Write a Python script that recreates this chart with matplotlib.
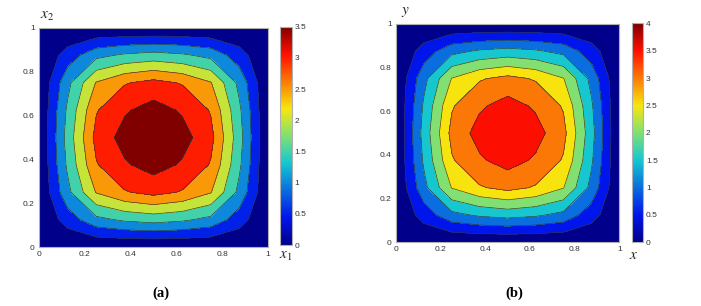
"""Two filled-contour panels, (a) and (b), on a coarse 9x9 nodal grid with jet-like colours."""

import matplotlib

matplotlib.use("Agg")
import matplotlib.pyplot as plt
import numpy as np
from matplotlib.cm import ScalarMappable
from matplotlib.colors import LinearSegmentedColormap, Normalize

# nodal coordinates (h = 1/8)
NODES = [0.0, 0.125, 0.25, 0.375, 0.5, 0.625, 0.75, 0.875, 1.0]

# panel (a): nodal values, rows = x2, columns = x1
U_A = [
    [0.00, 0.00, 0.00, 0.00, 0.00, 0.00, 0.00, 0.00, 0.00],
    [0.00, 0.73, 1.36, 1.59, 1.70, 1.59, 1.36, 0.73, 0.00],
    [0.00, 1.36, 2.53, 2.96, 3.16, 2.96, 2.53, 1.36, 0.00],
    [0.00, 1.59, 2.96, 3.44, 3.70, 3.44, 2.96, 1.59, 0.00],
    [0.00, 1.70, 3.16, 3.70, 3.95, 3.70, 3.16, 1.70, 0.00],
    [0.00, 1.59, 2.96, 3.44, 3.70, 3.44, 2.96, 1.59, 0.00],
    [0.00, 1.36, 2.53, 2.96, 3.16, 2.96, 2.53, 1.36, 0.00],
    [0.00, 0.73, 1.36, 1.59, 1.70, 1.59, 1.36, 0.73, 0.00],
    [0.00, 0.00, 0.00, 0.00, 0.00, 0.00, 0.00, 0.00, 0.00],
]

# panel (b): nodal values, rows = y, columns = x
U_B = [
    [0.00, 0.00, 0.00, 0.00, 0.00, 0.00, 0.00, 0.00, 0.00],
    [0.00, 0.72, 1.35, 1.58, 1.69, 1.58, 1.35, 0.72, 0.00],
    [0.00, 1.35, 2.52, 2.95, 3.15, 2.95, 2.52, 1.35, 0.00],
    [0.00, 1.58, 2.95, 3.43, 3.69, 3.43, 2.95, 1.58, 0.00],
    [0.00, 1.69, 3.15, 3.69, 3.92, 3.69, 3.15, 1.69, 0.00],
    [0.00, 1.58, 2.95, 3.43, 3.69, 3.43, 2.95, 1.58, 0.00],
    [0.00, 1.35, 2.52, 2.95, 3.15, 2.95, 2.52, 1.35, 0.00],
    [0.00, 0.72, 1.35, 1.58, 1.69, 1.58, 1.35, 0.72, 0.00],
    [0.00, 0.00, 0.00, 0.00, 0.00, 0.00, 0.00, 0.00, 0.00],
]

LEVELS = [0.0, 0.5, 1.0, 1.5, 2.0, 2.5, 3.0, 3.5, 4.0]
AXIS_TICKS = [0, 0.2, 0.4, 0.6, 0.8, 1]
AXIS_TICKLABELS = ["0", "0.2", "0.4", "0.6", "0.8", "1"]
CB_MAX_A = 3.5
CB_MAX_B = 4.0

plt.rcParams.update(
    {
        "font.family": "Liberation Sans",
        "mathtext.fontset": "stix",
        "font.size": 6,
    }
)

# MATLAB-style jet, a little muted in the greens as in the printed figure
CMAP = LinearSegmentedColormap.from_list(
    "jet_print",
    [
        (0.0, (0.00, 0.00, 0.54)),
        (0.125, (0.00, 0.08, 0.92)),
        (0.375, (0.08, 0.78, 0.82)),
        (0.5, (0.50, 0.88, 0.45)),
        (0.625, (0.97, 0.90, 0.05)),
        (0.875, (1.00, 0.06, 0.00)),
        (1.0, (0.50, 0.00, 0.00)),
    ],
)
FRAME = "#b0b0b0"
TICK_TXT = "#333333"


def panel(fig, ax_rect, cb_rect, values, cb_max, xlab, xlab_pos, ylab, ylab_pos, tag, tag_x):
    ax = fig.add_axes(ax_rect)
    x = np.array(NODES)
    z = np.array(values)
    # each band takes the colour of its lower level on a 0..cb_max scale (MATLAB style)
    colors = [CMAP(min(lv / cb_max, 1.0)) for lv in LEVELS[:-1]]
    ax.contourf(x, x, z, levels=LEVELS, colors=colors)
    ax.contour(x, x, z, levels=LEVELS[1:-1], colors="#333333", linewidths=0.45)
    ax.set_xlim(0, 1)
    ax.set_ylim(0, 1)
    ax.set_xticks(AXIS_TICKS, AXIS_TICKLABELS)
    ax.set_yticks(AXIS_TICKS, AXIS_TICKLABELS)
    ax.tick_params(length=0, pad=3, labelcolor=TICK_TXT)
    for s in ax.spines.values():
        s.set_color(FRAME)
        s.set_linewidth(0.8)

    cax = fig.add_axes(cb_rect)
    sm = ScalarMappable(norm=Normalize(0, cb_max), cmap=CMAP)
    cb = fig.colorbar(sm, cax=cax)
    ticks = np.arange(0, cb_max + 0.01, 0.5)
    cb.set_ticks(ticks, labels=[f"{t:g}" for t in ticks])
    cb.ax.tick_params(length=0, pad=2, labelcolor=TICK_TXT)
    cb.outline.set_edgecolor(FRAME)
    cb.outline.set_linewidth(0.8)

    fig.text(*xlab_pos, xlab, fontsize=11, color="#222222", ha="center", va="center")
    fig.text(*ylab_pos, ylab, fontsize=11, color="#222222", ha="center", va="center")
    fig.text(tag_x, 0.043, tag, family="Liberation Serif", weight="bold", fontsize=10.5,
             ha="center", va="center")


fig = plt.figure(figsize=(7.01, 3.06), dpi=100)

panel(fig, [0.0556, 0.1928, 0.3267, 0.7157], [0.3994, 0.1993, 0.0167, 0.7134],
      U_A, CB_MAX_A, r"$x_1$", (0.408, 0.163), r"$x_2$", (0.067, 0.948), "(a)", 0.229)
panel(fig, [0.5649, 0.2082, 0.3185, 0.7134], [0.9011, 0.2082, 0.0166, 0.7157],
      U_B, CB_MAX_B, r"$x$", (0.904, 0.168), r"$y$", (0.578, 0.962), "(b)", 0.733)

fig.savefig("out.png", dpi=100)
